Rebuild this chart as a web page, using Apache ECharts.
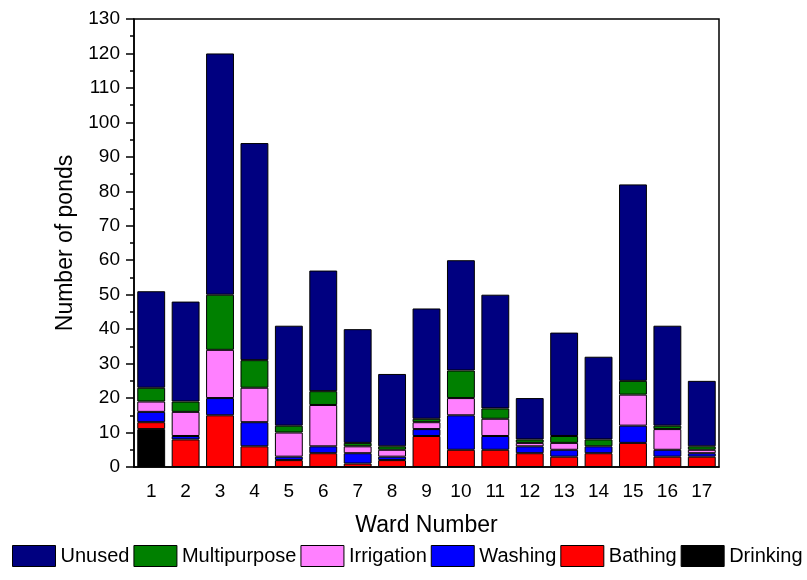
<!DOCTYPE html>
<html>
<head>
<meta charset="utf-8">
<script src="https://cdn.jsdelivr.net/npm/echarts@6/dist/echarts.min.js"></script>
<style>
  html, body { margin: 0; padding: 0; background: #fff; }
  #chart { width: 807px; height: 580px; }
</style>
</head>
<body>
<div id="chart"></div>
<script>
// Ward numbers along the x axis
const wards = ['1','2','3','4','5','6','7','8','9','10','11','12','13','14','15','16','17'];

// Number of ponds per ward by use (stacked bottom to top: Drinking ... Unused)
const drinking     = [11, 0, 0, 0, 0, 0, 0, 0, 0, 0, 0, 0, 0, 0, 0, 0, 0];
const bathing      = [2, 8, 15, 6, 2, 4, 1, 2, 9, 5, 5, 4, 3, 4, 7, 3, 3];
const washing      = [3, 1, 5, 7, 1, 2, 3, 1, 2, 10, 4, 2, 2, 2, 5, 2, 1];
const irrigation   = [3, 7, 14, 10, 7, 12, 2, 2, 2, 5, 5, 1, 2, 0, 9, 6, 1];
const multipurpose = [4, 3, 16, 8, 2, 4, 1, 1, 1, 8, 3, 1, 2, 2, 4, 1, 1];
const unused       = [28, 29, 70, 63, 29, 35, 33, 21, 32, 32, 33, 12, 30, 24, 57, 29, 19];

const legendOrder = ['Unused', 'Multipurpose', 'Irrigation', 'Washing', 'Bathing', 'Drinking'];

const FONT = 'Liberation Sans, Arial, sans-serif';
const gridRect = { left: 134, right: 88, top: 19, bottom: 113 };

function stackSeries(name, values, color) {
  return {
    name: name,
    type: 'bar',
    stack: 'ponds',
    xAxisIndex: 0,
    yAxisIndex: 0,
    barWidth: '81%',
    data: values.map(v => (v === 0 ? '-' : v)),
    itemStyle: { color: color, borderColor: '#000', borderWidth: 1 },
    emphasis: { disabled: true }
  };
}

const chart = echarts.init(document.getElementById('chart'), null, { renderer: 'canvas' });

chart.setOption({
  animation: false,
  backgroundColor: '#fff',
  textStyle: { fontFamily: FONT },
  grid: [
    Object.assign({ show: true, borderColor: '#000', borderWidth: 1.5, backgroundColor: 'transparent' }, gridRect),
    Object.assign({ show: false }, gridRect)
  ],
  legend: {
    data: legendOrder,
    top: 545,
    left: 12,
    width: 800,
    padding: 0,
    itemWidth: 43,
    itemHeight: 21,
    itemGap: 4,
    icon: 'rect',
    textStyle: { fontFamily: FONT, fontSize: 20, color: '#000' },
    itemStyle: { borderColor: '#000', borderWidth: 1 },
    selectedMode: false
  },
  xAxis: [
    {
      type: 'category',
      gridIndex: 0,
      data: wards,
      name: 'Ward Number',
      nameLocation: 'middle',
      nameGap: 47,
      nameTextStyle: { fontFamily: FONT, fontSize: 23, color: '#000' },
      axisLine: { lineStyle: { color: '#000', width: 1.5 } },
      axisTick: { alignWithLabel: true, inside: false, length: 8, lineStyle: { color: '#000', width: 1.5 } },
      axisLabel: { fontFamily: FONT, fontSize: 19, color: '#000', margin: 15 },
      splitLine: { show: false }
    },
    {
      // short ticks on the category boundaries
      type: 'category',
      gridIndex: 1,
      data: wards,
      axisLine: { show: false },
      axisTick: { alignWithLabel: false, inside: false, length: 4, lineStyle: { color: '#000', width: 1.5 } },
      axisLabel: { show: false },
      splitLine: { show: false }
    }
  ],
  yAxis: [
    {
      type: 'value',
      gridIndex: 0,
      min: 0,
      max: 130,
      interval: 10,
      name: 'Number of ponds',
      nameLocation: 'middle',
      nameGap: 55,
      nameTextStyle: { fontFamily: FONT, fontSize: 23, color: '#000' },
      axisLine: { show: true, lineStyle: { color: '#000', width: 1.5 } },
      axisTick: { show: true, inside: false, length: 8, lineStyle: { color: '#000', width: 1.5 } },
      minorTick: { show: true, splitNumber: 2, length: 4, lineStyle: { color: '#000', width: 1.5 } },
      axisLabel: { fontFamily: FONT, fontSize: 19, color: '#000', margin: 14 },
      splitLine: { show: false },
      minorSplitLine: { show: false }
    },
    {
      type: 'value',
      gridIndex: 1,
      min: 0,
      max: 130,
      show: false
    }
  ],
  series: [
    stackSeries('Drinking', drinking, '#000000'),
    stackSeries('Bathing', bathing, '#ff0000'),
    stackSeries('Washing', washing, '#0000ff'),
    stackSeries('Irrigation', irrigation, '#ff80ff'),
    stackSeries('Multipurpose', multipurpose, '#008000'),
    stackSeries('Unused', unused, '#000080')
  ]
});
</script>
</body>
</html>
